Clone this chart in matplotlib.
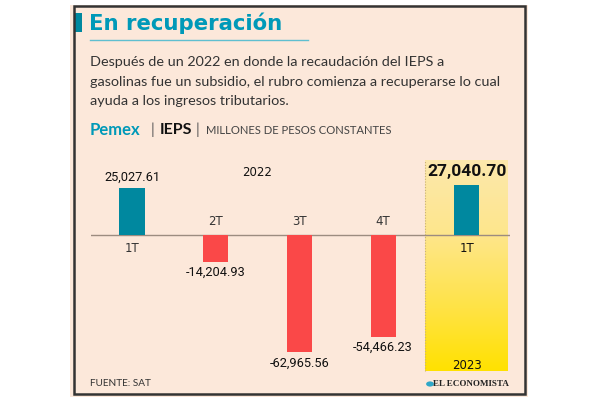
import matplotlib
matplotlib.use("Agg")
import matplotlib.pyplot as plt
import numpy as np
from matplotlib import font_manager
from matplotlib.patches import Rectangle
from matplotlib.colors import LinearSegmentedColormap

names = {f.name for f in font_manager.fontManager.ttflist}
COND = "Roboto" if "Roboto" in names else "DejaVu Sans"

categories = ["1T", "2T", "3T", "4T", "1T"]
values = [25027.61, -14204.93, -62965.56, -54466.23, 27040.70]
value_labels = ["25,027.61", "-14,204.93", "-62,965.56", "-54,466.23", "27,040.70"]
years = ["2022", "2023"]

W, H = 600, 400
fig = plt.figure(figsize=(6, 4), dpi=100)
fig.patch.set_facecolor("white")

def fx(x):
    return x / W
def fy(y):
    return 1 - y / H

PEACH = "#FCE8DA"
TEAL = "#0099B8"
BAR_TEAL = "#00889F"
RED = "#FA4848"

# panel background + border
fig.patches.append(Rectangle((fx(70), fy(397)), fx(458), 392 / H, transform=fig.transFigure,
                             facecolor=PEACH, edgecolor="none", zorder=-2))
fig.patches.append(Rectangle((fx(73.5), fy(393.5)), fx(451.5), 388 / H, transform=fig.transFigure,
                             facecolor="none", edgecolor="#333333", linewidth=1.8, zorder=5))
# title marker
fig.patches.append(Rectangle((fx(75), fy(32)), fx(7), 19 / H, transform=fig.transFigure,
                             facecolor=BAR_TEAL, edgecolor="none", zorder=3))
fig.text(fx(89), fy(23.5), "En recuperación", fontsize=15.3, fontweight="bold", color=TEAL,
         va="center", ha="left", family="DejaVu Sans")
fig.lines.append(plt.Line2D([fx(90), fx(308)], [fy(40), fy(40)], transform=fig.transFigure,
                            color="#5FBFD0", linewidth=1.0))

body = ("Después de un 2022 en donde la recaudación del IEPS a\n"
        "gasolinas fue un subsidio, el rubro comienza a recuperarse lo cual\n"
        "ayuda a los ingresos tributarios.")
fig.text(fx(90), fy(56.5), body, fontsize=10.4, color="#333333", va="top", ha="left",
         family="Lato", linespacing=1.72)

fig.text(fx(90), fy(130), "Pemex", fontsize=12, fontweight="bold", color=TEAL, va="center", family="Lato")
fig.text(fx(151), fy(130), "|", fontsize=11, color="#555555", va="center", family="Lato")
fig.text(fx(160), fy(130), "IEPS", fontsize=11.5, fontweight="bold", color="#111111", va="center", family="Lato")
fig.text(fx(196), fy(130), "|", fontsize=11, color="#555555", va="center", family="Lato")
fig.text(fx(206), fy(131), "MILLONES DE PESOS CONSTANTES", fontsize=8.1, color="#444444", va="center", family="Lato")

fig.text(fx(90), fy(384), "FUENTE: SAT", fontsize=7.2, color="#333333", va="center", family="Lato")
fig.text(fx(509), fy(384), "EL ECONOMISTA", fontsize=6.5, fontweight="bold", color="#222222", va="center",
         ha="right", family="Liberation Serif")
fig.patches.append(plt.Circle((fx(430), fy(384)), 0.0065, transform=fig.transFigure, facecolor="#2FA7C8",
                              edgecolor="none"))

# chart axes: x pixels 91..510, y pixels 150..380, zero at y=235
ax = fig.add_axes([fx(91), fy(380), 419 / W, 230 / H])
ax.set_facecolor("none")
step = 83.7
ppu = 535.9  # data units per pixel
ax.axis("off")

x = np.arange(len(values))
# highlight 2023
cmap = LinearSegmentedColormap.from_list(
    "hl", [(0, "#FCE8AC"), (0.35, "#FEE68C"), (0.7, "#FFE346"), (1.0, "#FFE100")])
grad = np.linspace(0, 1, 256).reshape(-1, 1)
x0, x1 = 3.505, 4.49
y0, y1 = -(371 - 235) * ppu, (235 - 160) * ppu
ax.imshow(grad[::-1], aspect="auto", cmap=cmap, extent=[x0, x1, y0, y1], origin="lower", zorder=0)
ax.plot([x0, x0], [y0, y1], color="#C8B07A", linestyle=(0, (1, 1.5)), linewidth=0.8, zorder=1)
ax.set_xlim((91 - 132) / step, (510 - 132) / step)
ax.set_ylim(-(380 - 235) * ppu, (235 - 150) * ppu)

colors = [BAR_TEAL if v > 0 else RED for v in values]
ax.bar(x, values, width=0.3, color=colors, zorder=3)
ax.axhline(0, color="#9C8C80", linewidth=1.0, zorder=2)

for i, (v, lab) in enumerate(zip(values, value_labels)):
    last = i == len(values) - 1
    if v > 0:
        ax.annotate(lab, (x[i], v), xytext=(0, 4 if last else 3), textcoords="offset points",
                    ha="center", va="bottom", fontsize=12.5 if last else 9.2,
                    fontweight="bold" if last else "normal", color="#111111", family=COND)
        ax.annotate(categories[i], (x[i], 0), xytext=(0, -5), textcoords="offset points",
                    ha="center", va="top", fontsize=8.5, color="#333333" if not last else "#111111",
                    family="DejaVu Sans")
    else:
        ax.annotate(lab, (x[i], v), xytext=(0, -3), textcoords="offset points",
                    ha="center", va="top", fontsize=9.2, color="#111111", family=COND)
        ax.annotate(categories[i], (x[i], 0), xytext=(0, 5), textcoords="offset points",
                    ha="center", va="bottom", fontsize=8.5, color="#333333", family="DejaVu Sans")

ax.text(1.5, (235 - 173) * ppu, years[0], ha="center", va="center", fontsize=8.5, color="#111111")
ax.text(4.0, -(366 - 235) * ppu, years[1], ha="center", va="center", fontsize=8.5, color="#111111")

fig.savefig("out.png", dpi=100, facecolor="white")
